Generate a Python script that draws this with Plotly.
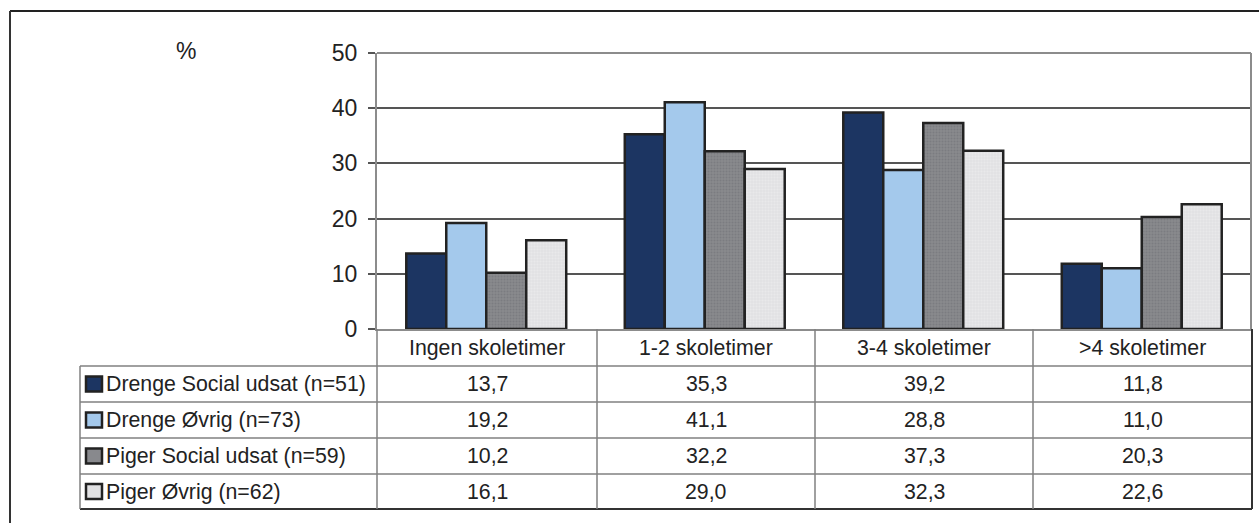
import plotly.graph_objects as go

# Data
categories = ["Ingen skoletimer", "1-2 skoletimer", "3-4 skoletimer", ">4 skoletimer"]
series_names = [
    "Drenge Social udsat (n=51)",
    "Drenge Øvrig (n=73)",
    "Piger Social udsat (n=59)",
    "Piger Øvrig (n=62)",
]
drenge_social = [13.7, 35.3, 39.2, 11.8]
drenge_ovrig = [19.2, 41.1, 28.8, 11.0]
piger_social = [10.2, 32.2, 37.3, 20.3]
piger_ovrig = [16.1, 29.0, 32.3, 22.6]
y_ticks = [0, 10, 20, 30, 40, 50]

series_values = [drenge_social, drenge_ovrig, piger_social, piger_ovrig]
fill_colors = ["#1c3562", "#a4c9ec", "#88898d", "#e1e1e3"]
dot_colors = [None, None, "#6e6f73", "#f2f2f2"]

W, H = 1259, 523
FONT = "Liberation Sans, Arial, sans-serif"
TEXT = "#222222"
TABLE_FONT = 21.3


def px(x):
    return x / W


def py(y):
    return 1 - y / H


# Plot area in pixels
PL, PR, PT, PB = 377, 1251, 53, 329
# Table geometry in pixels
col_edges = [377, 597, 815, 1033, 1252]
legend_left = 80
row_edges = [329, 366, 402, 438, 474, 509]

fig = go.Figure()
for name, vals, col, dot in zip(series_names, series_values, fill_colors, dot_colors):
    marker = dict(color=col, line=dict(color="#222222", width=2.5))
    if dot:
        marker["pattern"] = dict(shape=".", fillmode="overlay", fgcolor=dot,
                                 size=3, solidity=0.35)
    fig.add_trace(go.Bar(x=list(range(len(categories))), y=vals, name=name,
                         marker=marker, showlegend=False, hoverinfo="y"))

shapes = []
ann = []

# Outer chart frame
shapes.append(dict(type="line", xref="paper", yref="paper", x0=px(10), x1=px(W + 5),
                   y0=py(11), y1=py(11), line=dict(color="#222222", width=2)))
shapes.append(dict(type="line", xref="paper", yref="paper", x0=px(10), x1=px(10),
                   y0=py(11), y1=py(H + 5), line=dict(color="#333333", width=2)))

# Plot area border (top and right)
shapes.append(dict(type="line", xref="paper", yref="paper", x0=px(PL), x1=px(PR),
                   y0=py(PT), y1=py(PT), line=dict(color="#8c8c8c", width=2)))
shapes.append(dict(type="line", xref="paper", yref="paper", x0=px(PR), x1=px(PR),
                   y0=py(PT), y1=py(PB), line=dict(color="#8c8c8c", width=2)))

# Data table grid
inner = dict(color="#808080", width=1.5)
outer = dict(color="#333333", width=2)
for y in row_edges[1:-1]:
    shapes.append(dict(type="line", xref="paper", yref="paper", x0=px(legend_left),
                       x1=px(col_edges[-1]), y0=py(y), y1=py(y), line=inner))
shapes.append(dict(type="line", xref="paper", yref="paper", x0=px(legend_left),
                   x1=px(col_edges[-1]), y0=py(row_edges[-1]), y1=py(row_edges[-1]),
                   line=outer))
shapes.append(dict(type="line", xref="paper", yref="paper", x0=px(legend_left),
                   x1=px(legend_left), y0=py(row_edges[1]), y1=py(row_edges[-1]),
                   line=inner))
for x in col_edges[:-1]:
    shapes.append(dict(type="line", xref="paper", yref="paper", x0=px(x), x1=px(x),
                       y0=py(row_edges[0]), y1=py(row_edges[-1]), line=inner))
shapes.append(dict(type="line", xref="paper", yref="paper", x0=px(col_edges[-1]),
                   x1=px(col_edges[-1]), y0=py(row_edges[0]), y1=py(row_edges[-1]),
                   line=outer))

# Category headers
for i, cat in enumerate(categories):
    cx = (col_edges[i] + col_edges[i + 1]) / 2
    cy = (row_edges[0] + row_edges[1]) / 2
    ann.append(dict(x=px(cx), y=py(cy), xref="paper", yref="paper", text=cat,
                    showarrow=False, xanchor="center", yanchor="middle",
                    font=dict(size=TABLE_FONT, color=TEXT, family=FONT)))

# Series rows: legend key, name and values
for r, (name, vals, col) in enumerate(zip(series_names, series_values, fill_colors)):
    top, bot = row_edges[r + 1], row_edges[r + 2]
    cy = (top + bot) / 2
    shapes.append(dict(type="rect", xref="paper", yref="paper", x0=px(86), x1=px(102),
                       y0=py(cy - 7.5), y1=py(cy + 7.5), fillcolor=col,
                       line=dict(color="#222222", width=2.5)))
    ann.append(dict(x=px(104), y=py(cy), xref="paper", yref="paper", text=name,
                    showarrow=False, xanchor="left", yanchor="middle",
                    font=dict(size=TABLE_FONT, color=TEXT, family=FONT)))
    for i, v in enumerate(vals):
        cx = (col_edges[i] + col_edges[i + 1]) / 2
        ann.append(dict(x=px(cx), y=py(cy), xref="paper", yref="paper",
                        text=f"{v:.1f}".replace(".", ","), showarrow=False,
                        xanchor="center", yanchor="middle",
                        font=dict(size=TABLE_FONT, color=TEXT, family=FONT)))

# Axis unit label
ann.append(dict(x=px(186), y=py(51), xref="paper", yref="paper", text="%",
                showarrow=False, xanchor="center", yanchor="middle",
                font=dict(size=23, color=TEXT, family=FONT)))

fig.update_layout(
    width=W, height=H, autosize=False,
    margin=dict(l=0, r=0, t=0, b=0, pad=0, autoexpand=False),
    paper_bgcolor="white", plot_bgcolor="white",
    barmode="group", bargap=0.268, bargroupgap=0,
    shapes=shapes, annotations=ann,
    xaxis=dict(domain=[px(PL), px(PR)], range=[-0.5, len(categories) - 0.5],
               showticklabels=False, ticks="", showgrid=False, zeroline=False,
               showline=True, linecolor="#8c8c8c", linewidth=2, automargin=False),
    yaxis=dict(domain=[py(PB), py(PT)], range=[0, 50], tickvals=y_ticks,
               ticks="outside", ticklen=7, tickcolor="#555555", tickwidth=1.5,
               showline=True, linecolor="#8c8c8c", linewidth=2,
               showgrid=True, gridcolor="#555555", gridwidth=1.5, zeroline=False,
               ticklabelstandoff=6, automargin=False,
               tickfont=dict(size=23, color=TEXT, family=FONT)),
    font=dict(family=FONT),
)

fig.write_html("out.html")
